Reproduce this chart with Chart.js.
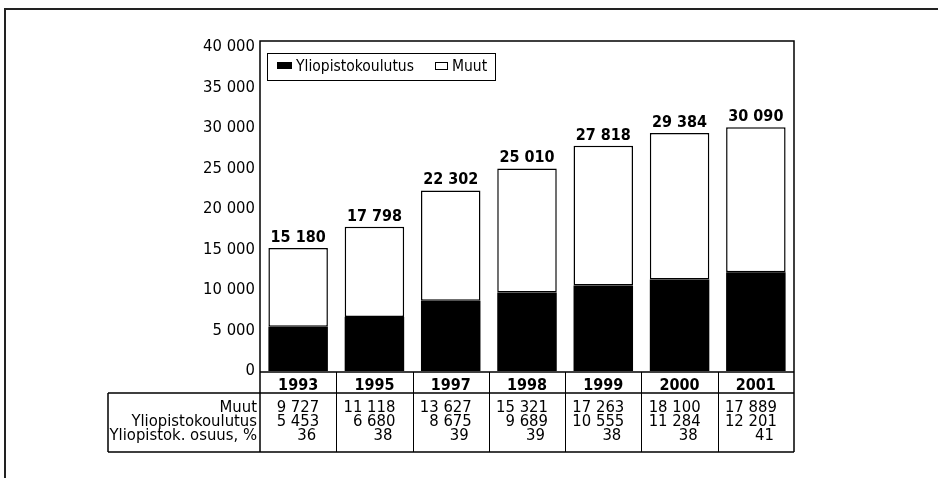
<!DOCTYPE html>
<html>
<head>
<meta charset="utf-8">
<script src="https://cdn.jsdelivr.net/npm/chart.js@4.4.1/dist/chart.umd.min.js"></script>
<style>
  html, body { margin: 0; padding: 0; background: #fff; }
  #wrap { width: 938px; height: 478px; }
</style>
</head>
<body>
<div id="wrap"><canvas id="kaavio" width="938" height="478"></canvas></div>
<script>
// arvot luettu kuvasta
const vuodet = ['1993', '1995', '1997', '1998', '1999', '2000', '2001'];
const yliopisto = [5453, 6680, 8675, 9689, 10555, 11284, 12201];
const muut = [9727, 11118, 13627, 15321, 17263, 18100, 17889];
const yhteensa = [15180, 17798, 22302, 25010, 27818, 29384, 30090];
const osuus = [36, 38, 39, 39, 38, 38, 41];
const rivit = ['Muut', 'Yliopistokoulutus', 'Yliopistok. osuus, %'];
const asteikko = [0, 5000, 10000, 15000, 20000, 25000, 30000, 35000, 40000];

const FONTTI = '"Liberation Sans Narrow", "Arial Narrow", "DejaVu Sans Condensed", "Roboto Condensed", sans-serif';

const luku = (v) => String(v).replace(/\B(?=(\d{3})+(?!\d))/g, ' ');

// taulukko, kehykset, summat ja selite piirretään itse
const taulukko = {
  id: 'taulukko',
  afterDraw(chart) {
    const c = chart.ctx;
    const a = chart.chartArea;
    const x = chart.scales.x;
    const ala = 452, vuosiRivi = 393, vasen = 108;
    const lev = (a.right - a.left) / vuodet.length;

    c.save();
    // sivun kehys
    c.strokeStyle = '#222';
    c.lineWidth = 2;
    c.beginPath();
    c.moveTo(5, 478); c.lineTo(5, 9); c.lineTo(938, 9);
    c.stroke();

    c.strokeStyle = '#000';
    c.lineWidth = 1.5;
    c.beginPath();
    // kuvaajan laatikko
    c.moveTo(a.left, ala); c.lineTo(a.left, a.top); c.lineTo(a.right, a.top); c.lineTo(a.right, ala);
    c.moveTo(a.left, a.bottom + 1); c.lineTo(a.right, a.bottom + 1);
    c.moveTo(vasen, vuosiRivi); c.lineTo(a.right, vuosiRivi);
    c.moveTo(vasen, ala); c.lineTo(a.right, ala);
    c.moveTo(vasen, vuosiRivi); c.lineTo(vasen, ala);
    c.stroke();

    c.lineWidth = 1;
    c.beginPath();
    for (let i = 1; i < vuodet.length; i++) {
      const px = Math.round(x.getPixelForValue(i) - lev / 2) + 0.5;
      c.moveTo(px, a.bottom + 1); c.lineTo(px, ala);
    }
    c.stroke();

    // rivien otsikot
    c.fillStyle = '#000';
    c.font = '16.5px ' + FONTTI;
    c.textBaseline = 'middle';
    c.textAlign = 'right';
    const ry = [408, 422, 436];
    rivit.forEach((t, r) => c.fillText(t, a.left - 3, ry[r]));

    // arvot
    vuodet.forEach((v, i) => {
      const kx = x.getPixelForValue(i);
      c.fillText(luku(muut[i]), kx + 21, ry[0]);
      c.fillText(luku(yliopisto[i]), kx + 21, ry[1]);
      c.fillText(String(osuus[i]), kx + 18, ry[2]);
    });

    // summat pylväiden päälle
    const meta = chart.getDatasetMeta(1);
    c.font = 'bold 16px ' + FONTTI;
    c.textAlign = 'center';
    c.textBaseline = 'alphabetic';
    meta.data.forEach((el, i) => {
      c.fillText(luku(yhteensa[i]), el.x, el.y - 6);
    });

    // selite
    c.lineWidth = 1;
    c.strokeRect(267.5, 53.5, 228, 27);
    c.fillRect(277, 62, 15, 7);
    c.font = '15.5px ' + FONTTI;
    c.textAlign = 'left';
    c.textBaseline = 'middle';
    c.fillText(chart.data.datasets[0].label, 296, 67);
    c.strokeRect(435.5, 62.5, 12, 7);
    c.fillText(chart.data.datasets[1].label, 452, 67);
    c.restore();
  }
};

new Chart(document.getElementById('kaavio'), {
  type: 'bar',
  data: {
    labels: vuodet,
    datasets: [
      {
        label: 'Yliopistokoulutus',
        data: yliopisto,
        backgroundColor: '#000',
        borderWidth: 0
      },
      {
        label: 'Muut',
        data: muut,
        backgroundColor: '#fff',
        borderColor: '#000',
        borderWidth: 1.5,
        borderSkipped: false
      }
    ]
  },
  options: {
    responsive: false,
    animation: false,
    layout: { padding: { top: 41, right: 144, left: 0, bottom: 0 } },
    datasets: { bar: { categoryPercentage: 1, barPercentage: 0.78 } },
    plugins: {
      legend: { display: false },
      tooltip: { enabled: false }
    },
    scales: {
      x: {
        stacked: true,
        grid: { display: false, drawTicks: false },
        border: { display: false },
        ticks: {
          color: '#000',
          padding: 5,
          font: { family: FONTTI, size: 16, weight: 'bold' }
        },
        afterFit: (s) => { s.height = 107; }
      },
      y: {
        stacked: true,
        min: 0,
        max: 40750,
        grid: { display: false, drawTicks: false },
        border: { display: false },
        afterBuildTicks: (s) => { s.ticks = asteikko.map((v) => ({ value: v })); },
        ticks: {
          color: '#000',
          padding: 5,
          font: { family: FONTTI, size: 16.5 },
          callback: (v) => luku(v)
        },
        afterFit: (s) => { s.width = 260; }
      }
    }
  },
  plugins: [taulukko]
});
</script>
</body>
</html>
